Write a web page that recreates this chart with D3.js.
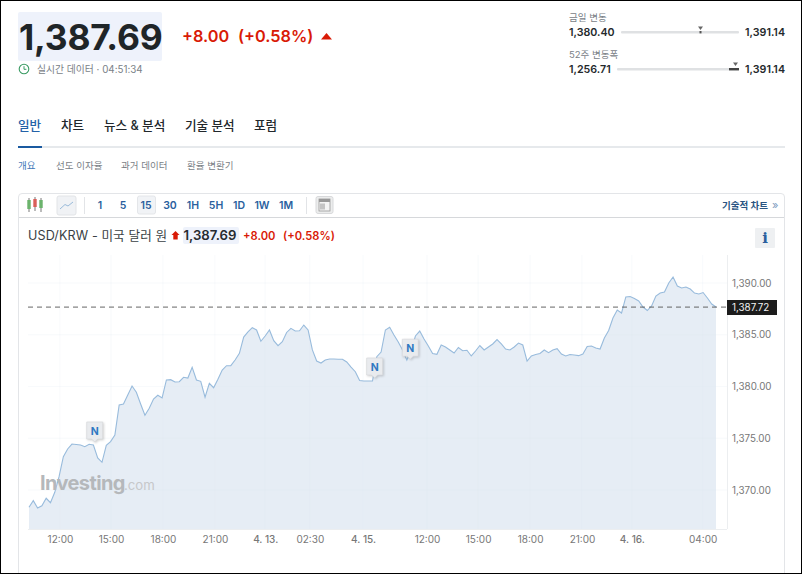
<!DOCTYPE html>
<html lang="ko"><head><meta charset="utf-8">
<script src="https://cdn.jsdelivr.net/npm/d3@7"></script>
<style>
html,body{margin:0;padding:0;background:#fff}
svg{display:block}
text{font-family:Inter,"Noto Sans CJK KR",sans-serif}
</style></head><body>
<svg id="c" width="802" height="574"></svg>
<script>
const values=[1368.33,1368.97,1368.26,1368.48,1369.2,1368.77,1369.78,1371.29,1373.22,1373.96,1374.44,1374.4,1374.35,1374.18,1374.42,1374.35,1373.1,1372.68,1374.32,1374.67,1375.31,1378.21,1378.31,1379.18,1380.05,1379.44,1378.31,1377.22,1377.89,1378.79,1379.15,1378.89,1380.63,1380.66,1380.43,1380.46,1380.89,1380.82,1381.86,1380.63,1380.5,1378.96,1380.31,1379.88,1380.7,1381.59,1382.01,1382.01,1382.56,1383.21,1384.78,1385.27,1385.68,1385.46,1384.37,1384.88,1385.46,1384.43,1383.94,1384.33,1385.22,1385.62,1385.36,1385.39,1385.94,1385.46,1383.53,1382.46,1382.27,1382.56,1382.66,1382.66,1382.64,1382.64,1382.37,1381.88,1381.43,1380.58,1380.53,1380.53,1380.53,1382.88,1383.33,1385.46,1385.72,1384.98,1384.3,1383.53,1382.56,1383.53,1384.88,1385.36,1384.59,1383.91,1383.19,1383.11,1384.01,1383.82,1383.53,1383.24,1383.77,1383.46,1383.5,1382.95,1383.43,1383.96,1383.53,1383.82,1384.11,1384.54,1384.11,1383.62,1383.53,1383.82,1384.2,1384.01,1382.46,1382.95,1383.09,1383.19,1383.53,1383.27,1383.53,1383.65,1383.14,1382.95,1383.09,1383.04,1382.98,1383.14,1383.86,1383.91,1383.72,1383.62,1384.69,1385.41,1386.62,1387.39,1387.1,1388.65,1388.7,1388.5,1388.26,1387.68,1387.34,1387.78,1388.74,1389.03,1389.13,1390,1390.58,1389.71,1389.52,1389.61,1389.42,1389.03,1388.94,1389.08,1388.55,1387.97,1387.68];
const xTickIndex=[8.2,20.1,32.2,44.3,56,66.4,78.8,93.7,105.6,117.7,129.8,141.4,157.9];
const xTickLabels=["12:00","15:00","18:00","21:00","4. 13.","02:30","4. 15.","12:00","15:00","18:00","21:00","4. 16.","04:00"];
const boldTicks=["4. 13.","4. 15.","4. 16."];
const yTicks=[1370,1375,1380,1385,1390];
const lastValue=1387.72;
const newsIndex=[16.3,81.5,89.8];
const newsValue=[1374.35,1380.53,1382.35];
const intervals=["1","5","15","30","1H","5H","1D","1W","1M"];
const intervalX=[100,123,146,170,193,216,239,262,286];
const tabs=["일반","차트","뉴스 & 분석","기술 분석","포럼"];
const tabX=[18,61,104,185,254];
const subTabs=["개요","선도 이자율","과거 데이터","환율 변환기"];
const subTabX=[18,56,121,187];

const svg=d3.select("#c");
const RED="#d91a06",BLUE="#2462a8",DARK="#1f2528";
function T(x,y,s,size,fill,weight,anchor){return svg.append("text").attr("x",x).attr("y",y).text(s).attr("font-size",size).attr("fill",fill).attr("font-weight",weight||400).attr("text-anchor",anchor||"start");}
function R(x,y,w,h,fill,r){return svg.append("rect").attr("x",x).attr("y",y).attr("width",w).attr("height",h).attr("fill",fill).attr("rx",r||0);}

// header
R(18,12,144,49,"#eef2fb",2);
T(19,50,"1,387.69",35.4,DARK,700).attr("letter-spacing",-0.2);
T(182,41.5,"+8.00",16.3,RED,600);
T(238,41.5,"(+0.58%)",16.3,RED,600);
svg.append("path").attr("d","M321 39.5L326.5 33L332 39.5Z").attr("fill",RED);
svg.append("circle").attr("cx",24).attr("cy",69).attr("r",4.8).attr("fill","none").attr("stroke","#3a9b63").attr("stroke-width",1.1);
svg.append("path").attr("d","M24 66.2V69.3H26.4").attr("fill","none").attr("stroke","#3a9b63").attr("stroke-width",1);
T(37,72.5,"실시간 데이터 · 04:51:34",9.8,"#7a8187",400);

// ranges
T(569,21,"금일 변동",9.5,"#7a8187");
T(569,36,"1,380.40",10.7,"#24292c",600);
R(621,31,118,2.4,"#dfe1e3",1);
svg.append("path").attr("d","M698 26.5H703L700.5 30Z").attr("fill","#666");
R(699.5,31,2,2.4,"#555");
T(785,36,"1,391.14",10.7,"#24292c",600,"end");
T(569,58,"52주 변동폭",9.5,"#7a8187");
T(569,73,"1,256.71",10.7,"#24292c",600);
R(617,68,122,2.4,"#dfe1e3",1);
svg.append("path").attr("d","M733 62.5H738L735.5 66Z").attr("fill","#666");
R(729,68,10,2.4,"#444");
T(785,73,"1,391.14",10.7,"#24292c",600,"end");

// tabs
tabs.forEach((t,i)=>T(tabX[i],130,t,12.6,i==0?BLUE:"#22282c",500));
R(18,146,767,2,"#e6e9ec");
R(18,146,24,2,"#1a5aa0");
subTabs.forEach((t,i)=>T(subTabX[i],169,t,9.5,i==0?"#3f78b8":"#7a8187"));

// card
svg.append("path").attr("d","M18.5 574V197Q18.5 193.5 22 193.5H781Q784.5 193.5 784.5 197V574").attr("fill","none").attr("stroke","#e3e5e8");
svg.append("line").attr("x1",19).attr("x2",784).attr("y1",217.5).attr("y2",217.5).attr("stroke","#d6d8db");

// toolbar icons
[[29,198,212,200,209],[35,197,211,199,207],[41,198,212,200,208]].forEach((c,i)=>{
 svg.append("line").attr("x1",c[0]).attr("x2",c[0]).attr("y1",c[1]).attr("y2",c[2]).attr("stroke","#555").attr("stroke-width",.8);
 R(c[0]-1.7,c[3],3.4,c[4]-c[3],i==1?"#d9605a":"#6bb36c");
});
R(57,196,19,19,"#f0f2f5",2).attr("stroke","#e2e4e7");
svg.append("path").attr("d","M60 209L65 204.5L68 206L73 202").attr("fill","none").attr("stroke","#8fb3d6").attr("stroke-width",.9);
R(84,197,1,17,"#e2e4e7");
R(306,197,1,17,"#e2e4e7");
R(137.5,196,18,18,"#f1f3f6",2).attr("stroke","#e4e6e9");
intervals.forEach((t,i)=>T(intervalX[i],209,t,10.5,"#2a5f9e",600,"middle"));
R(316,196.5,17,17,"#eceded",2).attr("stroke","#d8d9db");
R(319,199,11,12,"#f4f4f4").attr("stroke","#999").attr("stroke-width",.8);
R(319,199,11,3,"#999");
R(320,203.5,5,6,"#c4c4c4");
T(768,208.5,"기술적 차트",9.5,"#2a5582",700,"end");
T(772,208.5,"»",11,"#7d9cc0",400);

// title
T(28,239.5,"USD/KRW - 미국 달러 원",12.6,"#3a3f44").attr("letter-spacing",0.1);
svg.append("path").attr("d","M175.5 231L179.5 235H177.7V239.5H173.3V235H171.5Z").attr("fill",RED);
R(183,227,56,17,"#eef2fb",2);
T(183.5,240,"1,387.69",13.2,"#262b30",600);
T(243,239.5,"+8.00",11.2,RED,600);
T(283,239.5,"(+0.58%)",11.2,RED,600);
R(755,228,20,20,"#eef0f2",1);
T(765,243,"i",15,"#2a5f9e",700,"middle").style("font-family","'DejaVu Serif'");

// chart
const x=d3.scaleLinear().domain([1,161]).range([29,716]);
const y=d3.scaleLinear().domain([1370,1390]).range([490,283]);
const plotBottom=529,plotRight=727,plotTop=255;
const g=svg.append("g");
const area=d3.area().x((d,i)=>x(i+1)).y0(plotBottom).y1(d=>y(d));
const line=d3.line().x((d,i)=>x(i+1)).y(d=>y(d));
g.append("path").datum(values).attr("d",area).attr("fill","#e6edf5");
// grid
xTickIndex.forEach(i=>g.append("line").attr("x1",x(i)).attr("x2",x(i)).attr("y1",plotTop).attr("y2",plotBottom).attr("stroke","#dfe7f0").attr("stroke-opacity",.22));
yTicks.forEach(v=>g.append("line").attr("x1",28).attr("x2",plotRight).attr("y1",y(v)).attr("y2",y(v)).attr("stroke","#dfe7f0").attr("stroke-opacity",.22));
g.append("path").datum(values).attr("d",line).attr("fill","none").attr("stroke","#98bbdc").attr("stroke-width",1.1);
svg.append("line").attr("x1",plotRight+.5).attr("x2",plotRight+.5).attr("y1",plotTop).attr("y2",plotBottom).attr("stroke","#eceef0");
svg.append("line").attr("x1",28).attr("x2",plotRight).attr("y1",plotBottom+.5).attr("y2",plotBottom+.5).attr("stroke","#eceef0");

// axes
const ya=d3.axisRight(y).tickValues(yTicks).tickFormat(d3.format(",.2f")).tickSize(0).tickPadding(5);
const yg=svg.append("g").attr("transform",`translate(${plotRight},0)`).call(ya);
yg.select(".domain").remove();
yg.selectAll("text").attr("font-size",9.8).attr("fill","#777").style("font-family","Inter,sans-serif");
const xa=d3.axisBottom(x).tickValues(xTickIndex).tickFormat((d,i)=>xTickLabels[i]).tickSize(0).tickPadding(7);
const xg=svg.append("g").attr("transform",`translate(0,${plotBottom})`).call(xa);
xg.select(".domain").remove();
xg.selectAll("text").attr("font-size",10).attr("fill","#777").style("font-family","Inter,sans-serif").attr("font-weight",(d,i)=>boldTicks.includes(xTickLabels[i])?500:400);

// watermark
T(40,490,"Investing",20,"#b5b8bb",700).attr("letter-spacing",-0.6);
T(124,490,".com",13.2,"#c6c8ca",400);

// last price
svg.append("line").attr("x1",28).attr("x2",plotRight).attr("y1",y(lastValue)+.5).attr("y2",y(lastValue)+.5).attr("stroke","#555").attr("stroke-dasharray","5 4").attr("stroke-width",.9);
R(727,300,50,15,"#1c1c1c");
T(732,311,d3.format(",.2f")(lastValue),9.8,"#f2f2f2");

// news markers
newsIndex.forEach((n,i)=>{
 const cx=x(n), cy=y(newsValue[i])-14;
 svg.append("path").attr("d",`M${cx-8} ${cy-9}h16v17h-5l-3 3l-3-3h-5Z`).attr("fill","#e9ebee").attr("stroke","#d3d5d8").attr("stroke-width",.6).style("filter","drop-shadow(1px 1px 1px rgba(0,0,0,.18))");
 T(cx,cy+4,"N",10.5,"#2f79c2",700,"middle");
});

// image border
svg.append("rect").attr("x",.5).attr("y",.5).attr("width",801).attr("height",573).attr("fill","none").attr("stroke","#000");
</script></body></html>
